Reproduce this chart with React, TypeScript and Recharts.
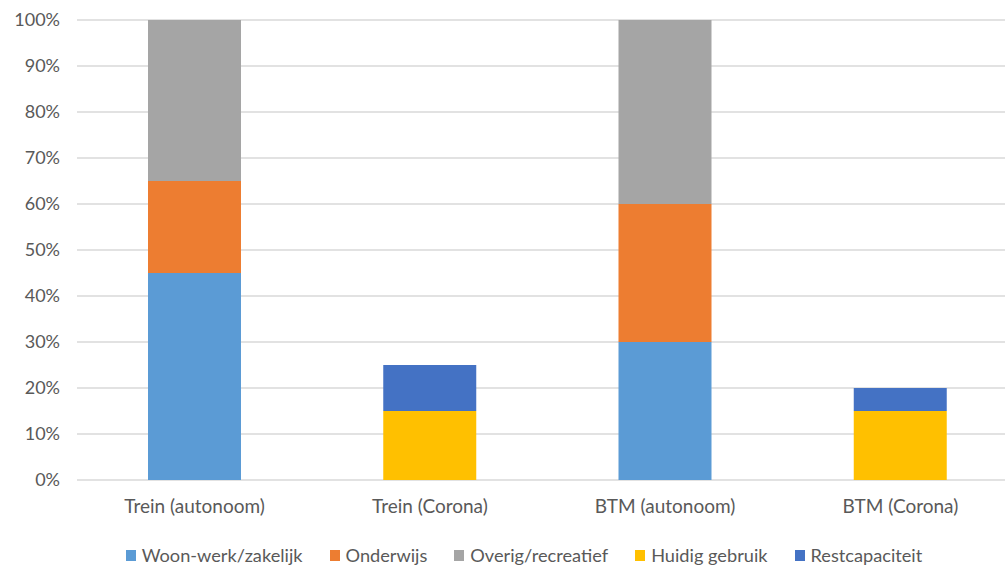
import React from 'react';
import { BarChart, Bar, XAxis, YAxis, CartesianGrid, Legend } from 'recharts';

const categories = ['Trein (autonoom)', 'Trein (Corona)', 'BTM (autonoom)', 'BTM (Corona)'];
const woonWerk = [45, 0, 30, 0];
const onderwijs = [20, 0, 30, 0];
const overig = [35, 0, 40, 0];
const huidigGebruik = [0, 15, 0, 15];
const restcapaciteit = [0, 10, 0, 5];
const yTicks = [0, 10, 20, 30, 40, 50, 60, 70, 80, 90, 100];

const SERIES = [
  { key: 'woon', name: 'Woon-werk/zakelijk', color: '#5B9BD5', values: woonWerk },
  { key: 'onderwijs', name: 'Onderwijs', color: '#ED7D31', values: onderwijs },
  { key: 'overig', name: 'Overig/recreatief', color: '#A5A5A5', values: overig },
  { key: 'huidig', name: 'Huidig gebruik', color: '#FFC000', values: huidigGebruik },
  { key: 'rest', name: 'Restcapaciteit', color: '#4472C4', values: restcapaciteit },
];

const FONT = 'Lato, "Open Sans", sans-serif';

const data = categories.map((name, i) => {
  const row: any = { name };
  SERIES.forEach((s) => {
    row[s.key] = s.values[i];
  });
  return row;
});

function LegendContent() {
  return (
    <div
      style={{
        display: 'flex',
        justifyContent: 'center',
        gap: 27,
        paddingTop: 25,
        paddingLeft: 30,
        fontFamily: FONT,
        fontSize: 18.2,
        color: '#595959',
        lineHeight: '20px',
      }}
    >
      {SERIES.map((s) => (
        <div key={s.key} style={{ display: 'flex', alignItems: 'center' }}>
          <span style={{ width: 10, height: 11, background: s.color, marginRight: 6, display: 'inline-block' }} />
          <span>{s.name}</span>
        </div>
      ))}
    </div>
  );
}

export default function App() {
  return (
    <div style={{ position: 'fixed', left: 0, top: 0, width: 1005, height: 566, overflow: 'hidden', background: '#fff' }}>
      <BarChart
        width={1048}
        height={580}
        data={data}
        margin={{ top: 20, right: 30, bottom: 0, left: 0 }}
        barSize={93}
      >
        <CartesianGrid vertical={false} stroke="#d9d9d9" strokeWidth={1.5} />
        <XAxis
          dataKey="name"
          axisLine={false}
          tickLine={false}
          height={40}
          tickMargin={14}
          tick={{ fill: '#595959', fontSize: 19, fontFamily: FONT }}
        />
        <YAxis
          width={77}
          domain={[0, 100]}
          ticks={yTicks}
          interval={0}
          axisLine={false}
          tickLine={false}
          tickSize={0}
          tickMargin={17}
          tickFormatter={(v: number) => `${v}%`}
          tick={{ fill: '#595959', fontSize: 18, fontFamily: FONT }}
        />
        <Legend verticalAlign="bottom" height={60} content={<LegendContent />} />
        {SERIES.map((s) => (
          <Bar key={s.key} dataKey={s.key} name={s.name} stackId="a" fill={s.color} isAnimationActive={false} />
        ))}
      </BarChart>
    </div>
  );
}
